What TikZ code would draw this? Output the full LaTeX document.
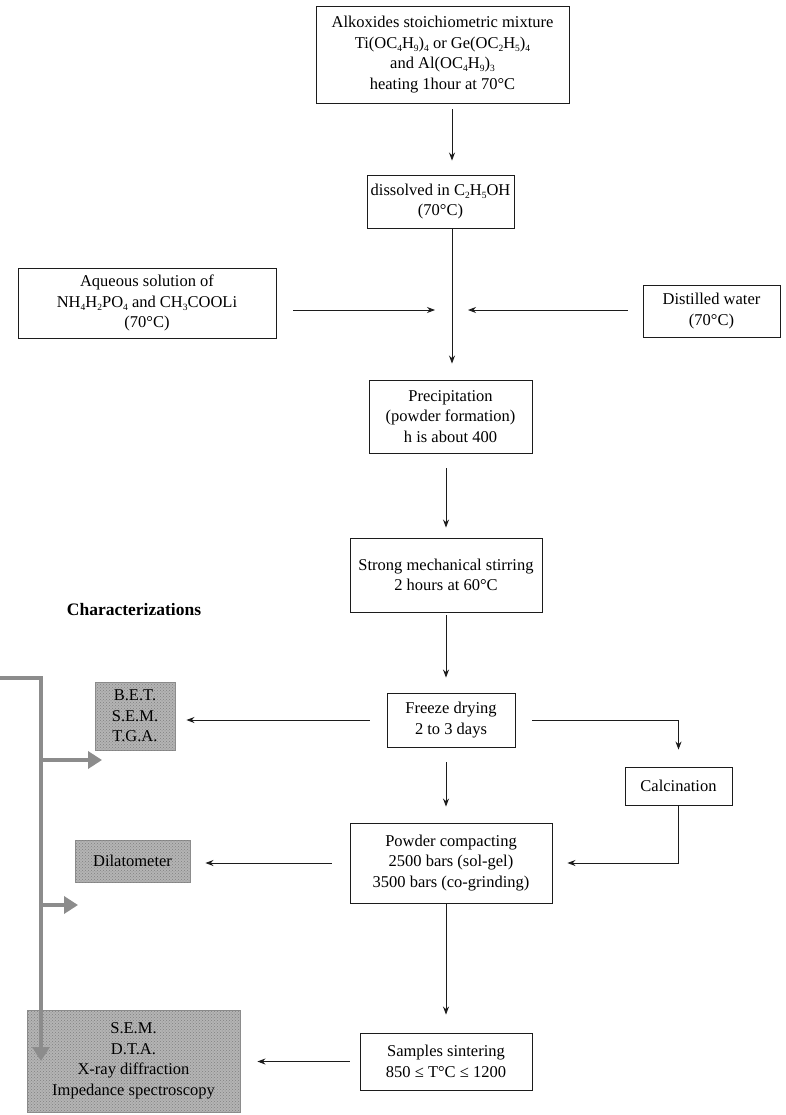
\documentclass[tikz,border=0pt]{standalone}
\usepackage{fontspec}
\setmainfont{Liberation Serif}
\usetikzlibrary{arrows.meta,patterns}
\definecolor{FlowInk}{HTML}{1C1C1C}
\definecolor{ProbeRule}{HTML}{8C8C8C}
\definecolor{ProbeFill}{HTML}{B4B4B4}
\newcommand{\chemsub}[1]{\raisebox{-0.4ex}{\fontsize{9.5}{9.5}\selectfont #1}}

\tikzset{
  stagebox/.style={draw=FlowInk,line width=0.9pt,align=center,inner sep=0pt,
    font=\fontsize{16.5}{20.5}\selectfont},
  probebox/.style={stagebox,draw=ProbeRule,fill=ProbeFill,
    postaction={pattern=crosshatch dots,pattern color=black!50}},
  flow/.style={FlowInk,line width=0.9pt,-{Stealth[length=8pt,width=6pt]}},
  probe/.style={ProbeRule,line width=4.5pt,-{Triangle[length=14pt,width=17pt]}},
}

\begin{document}
\begin{tikzpicture}[x=1pt,y=-1pt]
    \useasboundingbox[fill=white] (0,0) rectangle (785,1115);
    \coordinate (spine) at (452,0);
    \coordinate (spinelow) at (446,0);
    \coordinate (join) at (452,310);

    \node[stagebox,minimum width=253,minimum height=97] (mix) at (442.5,54.5)
      {Alkoxides stoichiometric mixture\\
       Ti(OC\chemsub{4}H\chemsub{9})\chemsub{4} or Ge(OC\chemsub{2}H\chemsub{5})\chemsub{4}\\
       and Al(OC\chemsub{4}H\chemsub{9})\chemsub{3}\\
       heating 1hour at 70°C};
    \node[stagebox,minimum width=147,minimum height=53] (solv) at (440.5,201.5)
      {dissolved in C\chemsub{2}H\chemsub{5}OH\\(70°C)};
    \node[stagebox,minimum width=258,minimum height=70] (aqueous) at (147,303)
      {Aqueous solution of\\
       NH\chemsub{4}H\chemsub{2}PO\chemsub{4} and CH\chemsub{3}COOLi\\(70°C)};
    \node[stagebox,minimum width=137,minimum height=52] (water) at (711.5,311)
      {Distilled water\\(70°C)};
    \node[stagebox,minimum width=163,minimum height=73] (precip) at (450.5,416.5)
      {Precipitation\\(powder formation)\\h is about 400};
    \node[stagebox,minimum width=192,minimum height=74] (stir) at (446,575)
      {Strong mechanical stirring\\2 hours at 60°C};
    \node[stagebox,minimum width=128,minimum height=54] (freeze) at (451,720)
      {Freeze drying\\2 to 3 days};
    \node[stagebox,minimum width=107,minimum height=38] (calc) at (678.5,786)
      {Calcination};
    \node[stagebox,minimum width=202,minimum height=80] (press) at (451,863)
      {Powder compacting\\2500 bars (sol-gel)\\3500 bars (co-grinding)};
    \node[stagebox,minimum width=172,minimum height=57] (sinter) at (446,1061.5)
      {Samples sintering\\850 ≤ T°C ≤ 1200};

    \node[font=\fontsize{17.5}{20.5}\selectfont\bfseries] (charlabel) at (134,610) {Characterizations};
    \node[probebox,minimum width=80,minimum height=68] (bet) at (135,716)
      {B.E.T.\\S.E.M.\\T.G.A.};
    \node[probebox,minimum width=115,minimum height=42] (dilato) at (132.5,861)
      {Dilatometer};
    \node[probebox,minimum width=213,minimum height=102] (final) at (133.5,1061)
      {S.E.M.\\D.T.A.\\X-ray diffraction\\Impedance spectroscopy};

    \draw[flow,shorten <=6pt,shorten >=14pt] (mix.south -| spine) -- (solv.north -| spine);
    \draw[flow,shorten >=16pt] (solv.south -| spine) -- (precip.north -| spine);
    \draw[flow,shorten <=17pt,shorten >=17pt] (aqueous.east |- join) -- (join);
    \draw[flow,shorten <=15pt,shorten >=16pt] (water.west |- join) -- (join);
    \draw[flow,shorten <=15pt,shorten >=10pt] (precip.south -| spinelow) -- (stir.north -| spinelow);
    \draw[flow,shorten <=3pt,shorten >=15pt] (stir.south -| spinelow) -- (freeze.north -| spinelow);
    \draw[flow,shorten <=17pt,shorten >=11pt] (freeze.west) -- (freeze.west -| bet.east);
    \draw[flow,shorten <=17pt,shorten >=17pt] (freeze.east) -| (calc.north);
    \draw[flow,shorten <=15pt,shorten >=16pt] (freeze.south -| spinelow) -- (press.north -| spinelow);
    \draw[flow,shorten >=15pt] (calc.south) |- (press.east);
    \draw[flow,shorten <=18pt,shorten >=15pt] (press.west) -- (press.west -| dilato.east);
    \draw[flow,shorten >=18pt] (press.south -| sinter) -- (sinter.north);
    \draw[flow,shorten <=10pt,shorten >=17pt] (sinter.west) -- (sinter.west -| final.east);

    \coordinate (feed) at (0,678);
    \coordinate (trunk) at (41,678);
    \coordinate (tapbet) at (102,760);
    \coordinate (tapdil) at (78,905);
    \draw[probe] (feed) -- (trunk) -- (trunk |- final);
    \draw[probe] (trunk |- tapbet) -- (tapbet);
    \draw[probe] (trunk |- tapdil) -- (tapdil);
  \end{tikzpicture}
\end{document}
